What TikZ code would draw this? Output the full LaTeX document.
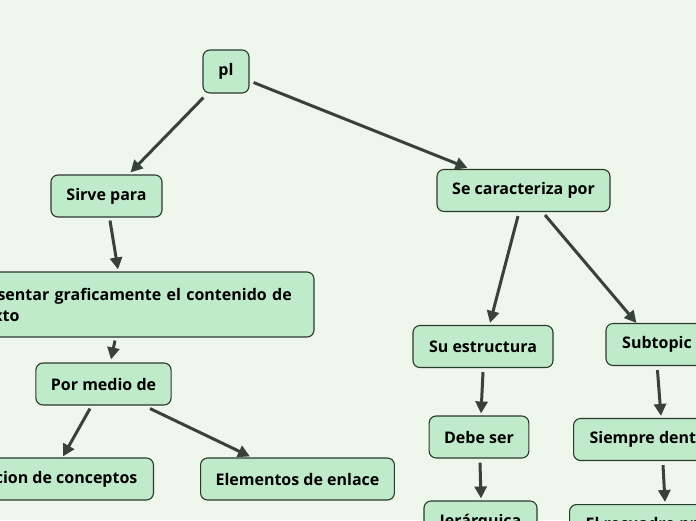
\documentclass[tikz,border=0pt]{standalone}
\usepackage{fontspec}
\setmainfont{Open Sans}
\usetikzlibrary{arrows.meta,calc}
\definecolor{bgc}{RGB}{239,247,236}
\definecolor{nodefill}{RGB}{192,235,203}
\definecolor{nodeline}{RGB}{43,56,46}
\definecolor{arrowc}{RGB}{55,67,58}
\begin{document}
\begin{tikzpicture}[x=1pt,y=-1pt,
  topic/.style={draw=nodeline,fill=nodefill,line width=1.1pt,rounded corners=7pt,
    minimum height=42pt,inner xsep=15pt,inner ysep=4pt,
    font=\fontsize{16pt}{21pt}\selectfont\bfseries},
  link/.style={draw=arrowc,line width=3pt,-{Triangle[length=12pt,width=12pt]}}]
\useasboundingbox (0,0) rectangle (696,520);
\clip (0,0) rectangle (696,520);
\fill[bgc] (0,0) rectangle (696,520);

\node[topic,minimum width=46pt,minimum height=43pt,inner xsep=4pt] (pl) at (226,71.5) {pl};
\node[topic,minimum width=111pt] (sirve) at (106.5,196) {Sirve para};
\node[topic,minimum width=173pt] (carac) at (523.5,190.5) {Se caracteriza por};
\node[topic,minimum height=65pt,text width=347pt,align=left,inner xsep=16pt] (repr) at (124.5,304.5) {Representar graficamente el contenido de un texto};
\node[topic,minimum width=135pt] (medio) at (103.5,384) {Por medio de};
\node[topic,anchor=east,inner xsep=16pt] (concept) at (154,479) {Organizacion de conceptos};
\node[topic,minimum width=193pt] (enlace) at (297.5,479) {Elementos de enlace};
\node[topic,minimum width=140pt] (estruct) at (483,346.5) {Su estructura};
\node[topic,minimum width=102pt] (subtopic) at (657,344.5) {Subtopic};
\node[topic,minimum width=98pt] (debe) at (479,437) {Debe ser};
\node[topic,anchor=west,inner xsep=16pt] (siempre) at (573,439.5) {Siempre dentro de un recuadro};
\node[topic,minimum width=113pt] (jer) at (480.5,522) {Jerárquica};
\node[topic,anchor=north west,inner xsep=16pt] (el) at (569,504) {El recuadro principal};

\draw[link] ($(pl.south west)+(1,4)$) -- ($(sirve.north)+(24,-2)$);
\draw[link] ($(pl.east)+(4,11)$) -- ($(carac.north)+(-56,-1)$);
\draw[link] ($(sirve.south)+(3.5,3)$) -- ($(repr.north)+(-6.5,-2)$);
\draw[link] ($(repr.south)+(-9.5,3)$) -- ($(medio.north)+(7.5,-3)$);
\draw[link] ($(medio.south)+(-13.5,3)$) -- ($(concept.north east)+(-91,-1)$);
\draw[link] ($(medio.south)+(46.5,3)$) -- ($(enlace.north)+(-47.5,-1)$);
\draw[link] ($(carac.south)+(-5.5,4)$) -- ($(estruct.north)+(7,-2)$);
\draw[link] ($(carac.south)+(21.5,3)$) -- ($(subtopic.north west)+(31,0)$);
\draw[link] ($(estruct.south)+(0,4)$) -- ($(debe.north)+(2,-2)$);
\draw[link] ($(debe.south)+(1,4)$) -- ($(jer.north)+(0.5,-2)$);
\draw[link] ($(subtopic.south west)+(52,4)$) -- ($(siempre.north west)+(88,-2)$);
\draw[link] ($(siempre.south west)+(90,4)$) -- ($(el.north west)+(96,-2)$);
\end{tikzpicture}
\end{document}
